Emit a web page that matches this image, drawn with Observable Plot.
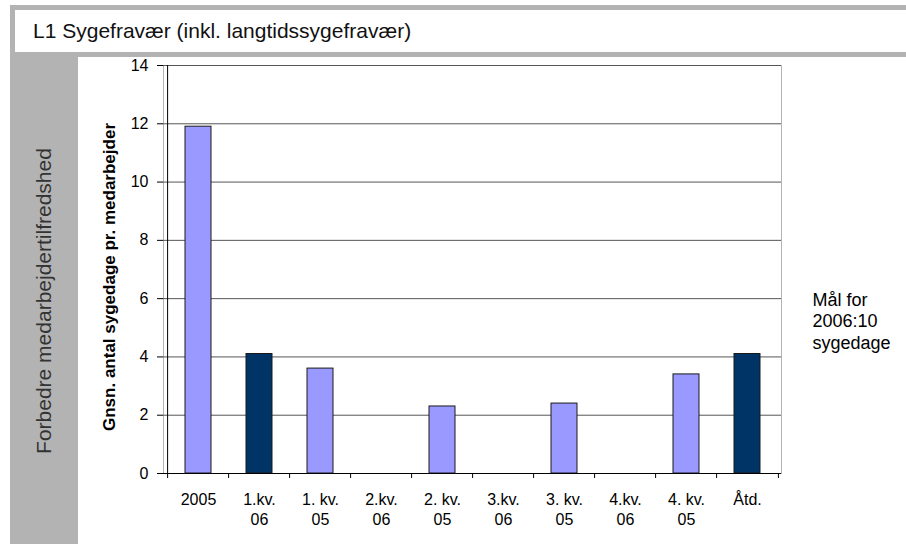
<!DOCTYPE html>
<html>
<head>
<meta charset="utf-8">
<script src="https://cdn.jsdelivr.net/npm/d3@7"></script>
<script src="https://cdn.jsdelivr.net/npm/@observablehq/plot@0.6"></script>
<style>
  html, body { margin: 0; padding: 0; background: white; }
  #page { position: relative; width: 906px; height: 544px; overflow: hidden; font-family: "Liberation Sans", Arial, sans-serif; }
  #frame { position: absolute; left: 10px; top: 5px; width: 896px; height: 52px; background: #b3b3b3; }
  #title { position: absolute; left: 15px; top: 10px; width: 891px; height: 42px; background: white;
           display: flex; align-items: center; padding-left: 18px; box-sizing: border-box; font-size: 21px; color: #111; }
  #strip { position: absolute; left: 10px; top: 57px; width: 68px; height: 487px; background: #b3b3b3; }
  #stripText { position: absolute; left: 44px; top: 301px; transform: translate(-50%, -50%) rotate(-90deg);
               white-space: nowrap; font-size: 21px; color: #333; }
  #yLabel { position: absolute; left: 110px; top: 277px; transform: translate(-50%, -50%) rotate(-90deg);
            white-space: nowrap; font-size: 17px; font-weight: bold; color: black; z-index: 2; }
  #chart { position: absolute; left: 78px; top: 57px; z-index: 1; }
</style>
</head>
<body>
<div id="page">
  <div id="frame"></div>
  <div id="title">L1 Sygefravær (inkl. langtidssygefravær)</div>
  <div id="strip"></div>
  <div id="stripText">Forbedre medarbejdertilfredshed</div>
  <div id="chart"></div>
  <div id="yLabel"></div>
</div>
<script>
// ---- data ----
const categories = ["2005", "1.kv. 06", "1. kv. 05", "2.kv. 06", "2. kv. 05", "3.kv. 06", "3. kv. 05", "4.kv. 06", "4. kv. 05", "Åtd."];
const tickLabels = ["2005", "1.kv.\n06", "1. kv.\n05", "2.kv.\n06", "2. kv.\n05", "3.kv.\n06", "3. kv.\n05", "4.kv.\n06", "4. kv.\n05", "Åtd."];
const values = [11.9, 4.1, 3.6, null, 2.3, null, 2.4, null, 3.4, 4.1];
const years = ["2005", "2006", "2005", "2006", "2005", "2006", "2005", "2006", "2005", "2006"];
const yTicks = [0, 2, 4, 6, 8, 10, 12, 14];
const yLabel = "Gnsn. antal sygedage pr. medarbejder";
const goalText = "Mål for\n2006:10\nsygedage";

const rows = categories.map((c, i) => ({category: c, label: tickLabels[i], value: values[i], year: years[i]}));

// ---- layout ----
const W = 828, H = 487;
const mL = 85, mR = 125, mT = 8, mB = 71;
const step = (W - mL - mR) / categories.length;
const tickLen = 5 * 14 / (H - mT - mB); // 5px expressed in y units

document.getElementById("yLabel").textContent = yLabel;

const chart = Plot.plot({
  width: W,
  height: H,
  marginLeft: mL,
  marginRight: mR,
  marginTop: mT,
  marginBottom: mB,
  style: {background: "transparent", fontFamily: "'Liberation Sans', Arial, sans-serif", fontSize: "16px", color: "black"},
  x: {domain: categories, paddingInner: 0.58, paddingOuter: 0.29, axis: null},
  y: {domain: [0, 14], axis: null},
  color: {domain: ["2005", "2006"], range: ["#9999ff", "#003366"]},
  marks: [
    Plot.frame({stroke: "#b3b3b3"}),
    Plot.ruleY(yTicks.filter(t => t > 0), {stroke: "#555", strokeWidth: 1}),
    Plot.barY(rows.filter(d => d.value != null), {x: "category", y: "value", fill: "year", stroke: "#1a1a1a", strokeWidth: 1}),
    Plot.ruleY([0], {stroke: "black"}),
    // left axis line and boundary tick marks
    Plot.ruleX([categories[0]], {x: d => d, dx: -step / 2, y1: -tickLen, y2: 14, stroke: "black"}),
    Plot.ruleX(categories.slice(1), {x: d => d, dx: -step / 2, y1: -tickLen, y2: 0, stroke: "black"}),
    Plot.ruleX([categories[categories.length - 1]], {x: d => d, dx: step / 2, y1: -tickLen, y2: 0, stroke: "black"}),
    Plot.axisY({ticks: yTicks, tickSize: 6, tickPadding: 9, tickFormat: d => String(d), label: null, fontSize: 16, stroke: "black"}),
    Plot.text(rows, {x: "category", text: "label", frameAnchor: "bottom", lineAnchor: "top", dy: 17, lineHeight: 1.27, fontSize: 16}),
    Plot.text([goalText], {text: d => d, frameAnchor: "right", textAnchor: "start", dx: 31, dy: 51, lineHeight: 1.2, fontSize: 18})
  ]
});
document.getElementById("chart").appendChild(chart);
</script>
</body>
</html>
